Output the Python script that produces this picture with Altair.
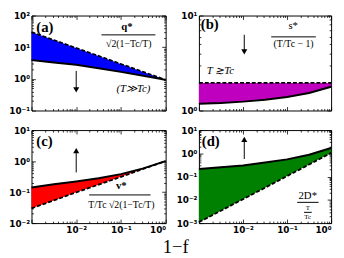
import altair as alt
import pandas as pd

# ---------------- data ----------------
X = [0.001, 0.00316, 0.01, 0.0316, 0.1, 0.316, 1.0]
A_DASH = [30.0, 16.8, 9.4, 5.3, 2.95, 1.66, 0.93]
A_SOLID = [3.9, 3.3, 2.8, 2.17, 1.66, 1.26, 0.93]
B_DASH = [1.95, 1.95, 1.95, 1.95, 1.95, 1.95, 1.95]
B_SOLID = [1.18, 1.2, 1.24, 1.3, 1.39, 1.53, 1.78]
C_DASH = [0.030, 0.054, 0.098, 0.174, 0.31, 0.56, 1.0]
C_SOLID = [0.141, 0.178, 0.22, 0.28, 0.38, 0.58, 1.0]
D_DASH = [0.0011, 0.0034, 0.0107, 0.033, 0.105, 0.33, 1.05]
D_SOLID = [0.21, 0.25, 0.3, 0.4, 0.55, 0.87, 1.7]

X_DOMAIN = [0.001, 1.0]
X_TICKS = [0.001, 0.01, 0.1, 1.0]
X_LABELS = [0.01, 0.1, 1.0]
Y_DOMAINS = {"a": [0.1, 100], "b": [1, 10], "c": [0.01, 10], "d": [0.001, 10]}
Y_TICKS = {"a": [0.1, 1, 10, 100], "b": [1, 10], "c": [0.01, 0.1, 1, 10],
           "d": [0.001, 0.01, 0.1, 1, 10]}
COLORS = {"a": "#0000ff", "b": "#bf00bf", "c": "#ff0000", "d": "#008000"}

# annotations: (x, y, text, size, weight, style, align)
TEXTS = {
    "a": [(0.00128, 42.6, "(a)", 15, "bold", "normal", "left"),
          (0.136, 42.7, "q*", 11, "bold", "normal", "center"),
          (0.15, 12.5, "√2(1−Tc/T)", 10, "normal", "normal", "center"),
          (0.19, 0.46, "(T≫Tc)", 11, "normal", "italic", "center")],
    "b": [(0.0011, 8.2, "(b)", 15, "bold", "normal", "left"),
          (0.138, 7.8, "s*", 11, "normal", "normal", "center"),
          (0.14, 4.97, "(T/Tc − 1)", 10, "normal", "normal", "center"),
          (0.0015, 2.6, "T ≳Tc", 11, "normal", "italic", "left")],
    "c": [(0.00128, 4.4, "(c)", 15, "bold", "normal", "left"),
          (0.102, 0.151, "v*", 11, "bold", "normal", "center"),
          (0.102, 0.038, "T/Tc √2(1−Tc/T)", 10, "normal", "normal", "center")],
    "d": [(0.00116, 3.27, "(d)", 15, "bold", "normal", "left"),
          (0.295, 0.0145, "2D*", 11, "normal", "normal", "center"),
          (0.295, 0.0046, "T", 7, "normal", "normal", "center"),
          (0.295, 0.0018, "Tc", 7, "normal", "normal", "center")],
}
# fraction bars: (x_start, x_end, y)
BARS = {
    "a": [(0.0367, 0.59, 24.5)],
    "b": [(0.0437, 0.45, 5.96)],
    "c": [(0.0195, 0.46, 0.081)],
    "d": [(0.17, 0.52, 0.0078), (0.243, 0.363, 0.0029)],
}
# arrows: (x, y_from, y_head, direction)
ARROWS = {
    "a": (0.01, 1.78, 0.45, "down"),
    "b": (0.0107, 6.27, 4.15, "down"),
    "c": (0.01, 0.43, 2.19, "up"),
    "d": (0.0107, 0.57, 3.98, "up"),
}

SERIF = "Liberation Serif"
SUP = {-3: "⁻³", -2: "⁻²", -1: "⁻¹", 0: "⁰", 1: "¹", 2: "²"}
E = "round(log(datum.value)/LN10)"
LABEL_EXPR = "'10' + (" + " : ".join(f"{E} == {k} ? '{v}'" for k, v in SUP.items()) + " : '')"


def minors(lo, hi):
    out = []
    e = lo
    while e < hi:
        for k in range(2, 10):
            out.append(k * 10.0 ** e)
        e += 1
    return out


def dec(v):
    import math
    return int(round(math.log10(v)))


def tick_axis(orient, values, size):
    return alt.Axis(orient=orient, values=values, labels=False, domain=False,
                    grid=False, title=None, ticks=True,
                    tickSize={"expr": str(-size)}, tickColor="black", tickWidth=0.8)


def panel(key, dash, solid, show_x, w, h):
    ydom = Y_DOMAINS[key]
    xs = alt.Scale(type="log", domain=X_DOMAIN, nice=False)
    ys = alt.Scale(type="log", domain=ydom, nice=False)
    ymaj = Y_TICKS[key]
    ymin = minors(dec(ydom[0]), dec(ydom[1]))
    xmin = minors(-3, 0)
    df = pd.DataFrame({"x": X, "dash": dash, "solid": solid})
    base = alt.Chart(df)

    if show_x:
        xlab = alt.Axis(orient="bottom", values=X_LABELS, labelExpr=LABEL_EXPR,
                        tickSize=0, domain=False, grid=False, title=None, labelPadding=3)
    else:
        xlab = None
    ylab = alt.Axis(orient="left", values=ymaj, labelExpr=LABEL_EXPR, tickSize=0,
                    domain=False, grid=False, title=None, labelPadding=2)

    area = base.mark_area(color=COLORS[key], opacity=1).encode(
        x=alt.X("x:Q", scale=xs, axis=xlab),
        y=alt.Y("dash:Q", scale=ys, axis=ylab),
        y2="solid:Q")
    solid_l = base.mark_line(color="black", strokeWidth=2).encode(
        x=alt.X("x:Q", scale=xs, axis=tick_axis("bottom", X_TICKS, 4)),
        y=alt.Y("solid:Q", scale=ys, axis=tick_axis("left", ymaj, 4)))
    dash_l = base.mark_line(color="black", strokeWidth=1.8, strokeDash=[4, 2]).encode(
        x=alt.X("x:Q", scale=xs, axis=tick_axis("bottom", xmin, 2)),
        y=alt.Y("dash:Q", scale=ys, axis=tick_axis("left", ymin, 2)))

    ax, ay0, ay1, adir = ARROWS[key]
    adf = pd.DataFrame({"x": [ax], "y0": [ay0], "y1": [ay1]})
    arrow = alt.Chart(adf).mark_rule(color="black", strokeWidth=1).encode(
        x=alt.X("x:Q", scale=xs, axis=tick_axis("top", X_TICKS, 4)),
        y=alt.Y("y0:Q", scale=ys, axis=tick_axis("right", ymaj, 4)),
        y2="y1:Q")
    head = alt.Chart(adf).mark_point(
        shape="triangle-down" if adir == "down" else "triangle-up",
        filled=True, color="black", size=38, opacity=1).encode(
        x=alt.X("x:Q", scale=xs, axis=tick_axis("top", xmin, 2)),
        y=alt.Y("y1:Q", scale=ys, axis=tick_axis("right", ymin, 2)))

    layers = [area, solid_l, dash_l, arrow, head]
    for (bx0, bx1, by) in BARS[key]:
        bdf = pd.DataFrame({"x0": [bx0], "x1": [bx1], "y": [by]})
        layers.append(alt.Chart(bdf).mark_rule(color="black", strokeWidth=1).encode(
            x=alt.X("x0:Q", scale=xs, axis=None), x2="x1:Q",
            y=alt.Y("y:Q", scale=ys, axis=None)))
    for (tx, ty, t, size, weight, style, align) in TEXTS[key]:
        tdf = pd.DataFrame({"x": [tx], "y": [ty], "t": [t]})
        layers.append(alt.Chart(tdf).mark_text(
            font=SERIF, fontSize=size, fontWeight=weight, fontStyle=style,
            align=align, baseline="middle", color="black").encode(
            x=alt.X("x:Q", scale=xs, axis=None),
            y=alt.Y("y:Q", scale=ys, axis=None),
            text="t:N"))
    return alt.layer(*layers).resolve_axis(x="independent", y="independent").properties(
        width=w, height=h)


pa = panel("a", A_DASH, A_SOLID, False, 137, 97)
pb = panel("b", B_DASH, B_SOLID, False, 135, 97)
pc = panel("c", C_DASH, C_SOLID, True, 137, 95)
pd_ = panel("d", D_DASH, D_SOLID, True, 135, 95)

chart = alt.concat(pa, pb, pc, pd_, columns=2, spacing={"row": 20, "column": 34},
                   bounds="flush").properties(
    padding={"left": 0, "top": 0, "right": 0, "bottom": 0},
    title=alt.TitleParams(text="1−f", orient="bottom", anchor="middle", font=SERIF,
                          fontSize=19, fontWeight="normal", color="black", offset=3,
                          dx=4),
).configure_view(stroke="black", strokeWidth=1).configure_axis(
    labelFont="DejaVu Sans", labelFontWeight="bold", labelFontSize=9, labelColor="black")

chart.save("out.html", embed_options={"renderer": "svg", "actions": False})
